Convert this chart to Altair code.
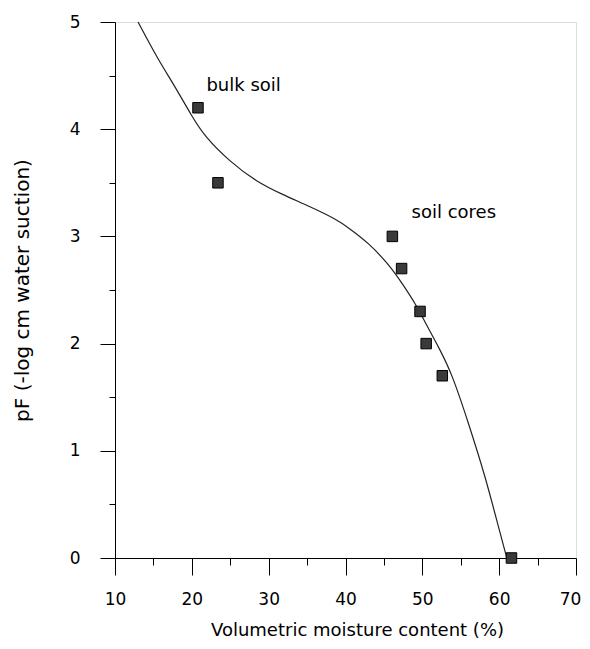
import altair as alt
import pandas as pd

# measured data
bulk_x = [20.8, 23.4]
bulk_y = [4.2, 3.5]
core_x = [46.1, 47.3, 49.7, 50.5, 52.6, 61.6]
core_y = [3.0, 2.7, 2.3, 2.0, 1.7, 0.0]

curve_x = [13.0, 15.6, 17.8, 20.0, 21.7, 24.9, 28.4, 31.8, 35.3, 38.8, 40.4, 43.0,
           45.6, 47.3, 49.2, 50.2, 52.1, 53.8, 56.0, 58.2, 59.9, 61.0]
curve_y = [5.0, 4.65, 4.40, 4.12, 3.93, 3.70, 3.51, 3.39, 3.28, 3.16, 3.08, 2.94,
           2.74, 2.57, 2.36, 2.22, 1.97, 1.73, 1.26, 0.76, 0.29, 0.0]

labels = ["bulk soil", "soil cores"]
label_x = [21.9, 48.6]
label_y = [4.40, 3.22]

x_major = [10, 20, 30, 40, 50, 60, 70]
x_minor = [15, 25, 35, 45, 55, 65]
y_major = [0, 1, 2, 3, 4, 5]
y_minor = [0.5, 1.5, 2.5, 3.5, 4.5]

pts = pd.DataFrame({"x": bulk_x + core_x, "y": bulk_y + core_y})
curve = pd.DataFrame({"x": curve_x, "y": curve_y})
ann = pd.DataFrame({"x": label_x, "y": label_y, "t": labels})

FONT = "DejaVu Sans"
xs = alt.Scale(domain=[10, 70], nice=False, zero=False)
ys = alt.Scale(domain=[0, 5], nice=False, zero=False)

# ---- data layer (no axes) ----
line = alt.Chart(curve).mark_line(color="#222", strokeWidth=1.2, interpolate="basis").encode(
    x=alt.X("x:Q", scale=xs, axis=None),
    y=alt.Y("y:Q", scale=ys, axis=None),
)
points = alt.Chart(pts).mark_point(shape="square", filled=True, size=110, color="#3a3a3a",
                                   stroke="black", strokeWidth=1, opacity=1).encode(
    x=alt.X("x:Q", scale=xs, axis=None),
    y=alt.Y("y:Q", scale=ys, axis=None),
)
text = alt.Chart(ann).mark_text(align="left", baseline="middle", font=FONT, fontSize=18,
                                color="black").encode(
    x=alt.X("x:Q", scale=xs, axis=None),
    y=alt.Y("y:Q", scale=ys, axis=None),
    text="t:N",
)
data_layer = alt.layer(line, points, text)

# ---- major axes ----
x_axis_major = alt.Axis(values=x_major, format="d", tickSize=17, labelPadding=16, labelFontSize=17,
                        labelFlush=False, labelOverlap=False,
                        labelOffset=alt.ConditionalAxisNumber(
                            condition={"test": "datum.value >= 70", "value": -6}, value=0),
                        labelFont=FONT, labelColor="black", tickColor="black", domainColor="black",
                        title="Volumetric moisture content (%)", titleFont=FONT, titleFontSize=18,
                        titleFontWeight="normal", titleColor="black", titlePadding=14, titleX=242,
                        grid=False, orient="bottom")
y_axis_major = alt.Axis(values=y_major, format="d", tickSize=15, labelPadding=20, labelFontSize=17,
                        labelFlush=False, labelOverlap=False,
                        labelFont=FONT, labelColor="black", tickColor="black", domainColor="black",
                        title="pF (-log cm water suction)", titleFont=FONT, titleFontSize=20,
                        titleFontWeight="normal", titleColor="black", titlePadding=37,
                        grid=False, orient="left")
major = alt.Chart(pts).mark_point(opacity=0).encode(
    x=alt.X("x:Q", scale=xs, axis=x_axis_major),
    y=alt.Y("y:Q", scale=ys, axis=y_axis_major),
)

# ---- minor ticks ----
minor_x = alt.Chart(pd.DataFrame({"x": x_minor})).mark_point(opacity=0).encode(
    x=alt.X("x:Q", scale=xs, axis=alt.Axis(values=x_minor, tickSize=7, labels=False, title=None,
                                           domain=False, grid=False, tickColor="black", orient="bottom")),
)
minor_y = alt.Chart(pd.DataFrame({"y": y_minor})).mark_point(opacity=0).encode(
    y=alt.Y("y:Q", scale=ys, axis=alt.Axis(values=y_minor, tickSize=6, labels=False, title=None,
                                           domain=False, grid=False, tickColor="black", orient="left")),
)
minor = alt.layer(minor_x, minor_y)

chart = alt.layer(data_layer, major, minor).resolve_scale(x="independent", y="independent").properties(
    width=461, height=536,
    autosize=alt.AutoSizeParams(type="none"),
    padding={"left": 107, "top": 14, "right": 6, "bottom": 83},
).configure_view(stroke=None, strokeWidth=0).configure(background="white")

chart.save("out.html", embed_options={"renderer": "svg", "actions": False})
